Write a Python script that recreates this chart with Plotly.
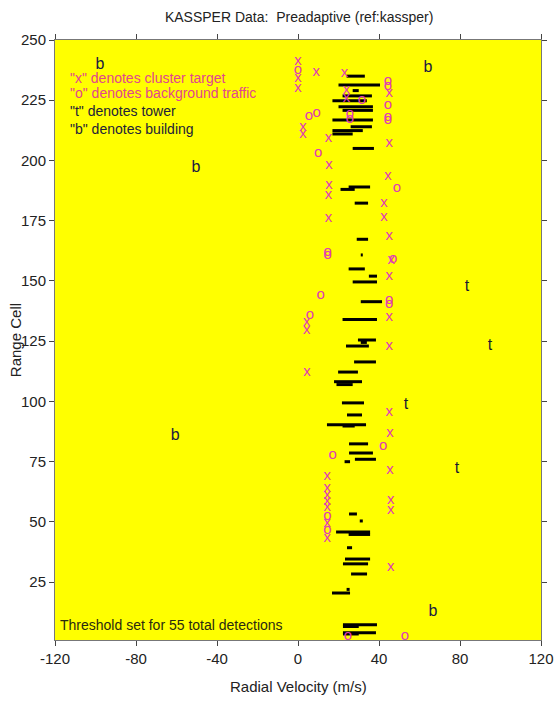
import plotly.graph_objects as go

# Detections: (velocity start, velocity end, range cell)
det_v0 = [24, 20, 27, 22, 17, 20, 22, 17, 26, 17, 17, 27, 25, 21, 28, 29, 31, 25, 35, 27,
          31, 22, 29.6, 31, 23.7, 27.7, 19.8, 17.8, 19, 21.7, 24.2, 14.3, 22, 25.2, 25.2, 28.1,
          23, 25.2, 30.5, 18.8, 25, 24.2, 23.2, 22.2, 26.2, 16.8, 24, 22.2, 22.2, 22.2, 22.2]
det_v1 = [33, 40.5, 30, 36.5, 34, 37, 37, 37, 36.5, 32, 27, 37.5, 35.6, 28, 34.6, 34.6, 32, 33, 39, 39,
          41.5, 39, 38.5, 34, 35, 38.5, 29.6, 31.6, 27, 32.6, 31.6, 33.6, 28, 34.6, 37, 38.5,
          25.7, 29.1, 32, 35.6, 35.6, 26.7, 35.6, 34.6, 34.1, 25.7, 25.5, 39, 30, 38.5, 30]
det_r = [235, 231.3, 229, 226.8, 224.8, 222.3, 220.8, 216.8, 214, 212.4, 211, 205, 189, 188, 182.3, 167.3, 160.8, 155, 152, 149.6,
         141.4, 134, 125.5, 124.5, 123, 116.4, 112.2, 108.2, 107, 99.4, 94.4, 90.3, 89.8, 82.4, 78.6, 76,
         75, 53.3, 50.4, 45.8, 44.8, 39.3, 34.6, 32.6, 28.4, 20.5, 22, 7.3, 6.6, 4, 3.5]

# Cluster targets ("x")
x_vel = [0, 0, 0, 9, 23, 24, 24, 45, 45, 2.5, 2.5, 15, 15.3, 15.3, 15, 15, 44.4, 42.5, 42.5, 45,
         46, 45, 45, 45, 4.3, 4.3, 4.4, 45, 45.4, 45.4, 14.5, 14.5, 14.5, 14.5, 14.5, 14.5, 14.5,
         45.8, 45.8, 45.8]
x_rng = [241, 234, 230, 236.5, 236, 229, 226, 228, 207, 214, 211, 209.3, 198, 189.8, 185.7, 176, 193.3, 182.3, 176.6, 168.7,
         158.7, 151.8, 135, 123, 133, 129.7, 112, 95.4, 87, 71.6, 68.9, 64, 61, 58.4, 56, 49.4, 43.3,
         59.1, 55, 31.4]

# Background traffic ("o")
o_vel = [0, 31.6, 5.4, 9.2, 25.7, 25.7, 44.4, 44.4, 44.4, 44.4, 44.4, 9.9, 48.9, 14.7, 14.7, 47,
         11.2, 45, 45, 5.9, 42, 17.1, 14.5, 14.5, 24.7, 52.8]
o_rng = [237.5, 225, 218.5, 219.8, 219, 217, 232.7, 231, 223, 218, 216.5, 203, 188.6, 162, 160.5, 159,
         144.2, 142, 140.5, 135.9, 81.4, 77.8, 52.2, 46.7, 2.4, 2.4]

# Towers ("t") and buildings ("b")
t_vel = [53.3, 78.5, 83.5, 94.8]
t_rng = [98.5, 72, 147.6, 123]
b_vel = [-97.8, -50.4, -60.7, 64.2, 66.7]
b_rng = [239.6, 196.9, 85.7, 238.4, 12.8]

x_ticks = [-120, -80, -40, 0, 40, 80, 120]
y_ticks = [25, 50, 75, 100, 125, 150, 175, 200, 225, 250]

legend_lines = ['"x" denotes cluster target', '"o" denotes background traffic',
                '"t" denotes tower', '"b" denotes building']
legend_rng = [234.2, 228, 220.5, 213]
legend_colors = ["#e2468e", "#e2468e", "#22223a", "#22223a"]

FONT = "Liberation Sans, Arial, sans-serif"
MAG = "#e03cb4"

fig = go.Figure()

sx, sy = [], []
for a, b, r in zip(det_v0, det_v1, det_r):
    sx += [a, b, None]
    sy += [r, r, None]
fig.add_trace(go.Scatter(x=sx, y=sy, mode="lines", line=dict(color="black", width=3),
                         hoverinfo="skip", showlegend=False))

def text_trace(xs, ys, ch, color, size):
    fig.add_trace(go.Scatter(x=xs, y=ys, mode="text", text=[ch] * len(xs),
                             textposition="middle center",
                             textfont=dict(family=FONT, size=size, color=color),
                             showlegend=False))

text_trace(x_vel, x_rng, "x", MAG, 15)
text_trace(o_vel, o_rng, "o", MAG, 15)
text_trace(t_vel, t_rng, "t", "#1a1a30", 16)
text_trace(b_vel, b_rng, "b", "#1a1a40", 16)

for txt, r, c in zip(legend_lines, legend_rng, legend_colors):
    fig.add_annotation(x=-113.6, y=r, xref="x", yref="y", text=txt, showarrow=False,
                       xanchor="left", yanchor="middle",
                       font=dict(family=FONT, size=14, color=c))
fig.add_annotation(x=-118.5, y=7.3, xref="x", yref="y", text="Threshold set for 55 total detections",
                   showarrow=False, xanchor="left", yanchor="middle",
                   font=dict(family=FONT, size=14, color="#2a2a10"))

fig.add_annotation(x=-0.082, y=0.5, xref="paper", yref="paper", text="Range Cell", textangle=-90,
                   showarrow=False, xanchor="center", yanchor="middle",
                   font=dict(family=FONT, size=15, color="#222"))
fig.add_annotation(x=0.5, y=-0.077, xref="paper", yref="paper", text="Radial Velocity (m/s)",
                   showarrow=False, xanchor="center", yanchor="middle",
                   font=dict(family=FONT, size=15, color="#222"))

axis_common = dict(showgrid=False, zeroline=False, ticks="outside", ticklen=5,
                   tickcolor="#444", linecolor="#777", linewidth=1, mirror="ticks",
                   automargin=False,
                   tickfont=dict(family=FONT, size=15, color="#222"))

fig.update_layout(
    width=555, height=703,
    margin=dict(l=55, r=14, t=40, b=63),
    paper_bgcolor="white", plot_bgcolor="#ffff00",
    title=dict(text="KASSPER Data:  Preadaptive (ref:kassper)", x=0.539, xref="container",
               xanchor="center", y=0.975, yanchor="middle",
               font=dict(family=FONT, size=14, color="#222")),
    xaxis=dict(range=[-120, 120], tickvals=x_ticks, ticktext=[str(v) for v in x_ticks],
               **axis_common),
    yaxis=dict(range=[1, 250], tickvals=y_ticks, ticktext=[str(v) for v in y_ticks],
               **axis_common),
)

fig.write_html("out.html", config={"displayModeBar": False},
               post_script="document.body.style.margin='0px';document.body.style.overflow='hidden';")
